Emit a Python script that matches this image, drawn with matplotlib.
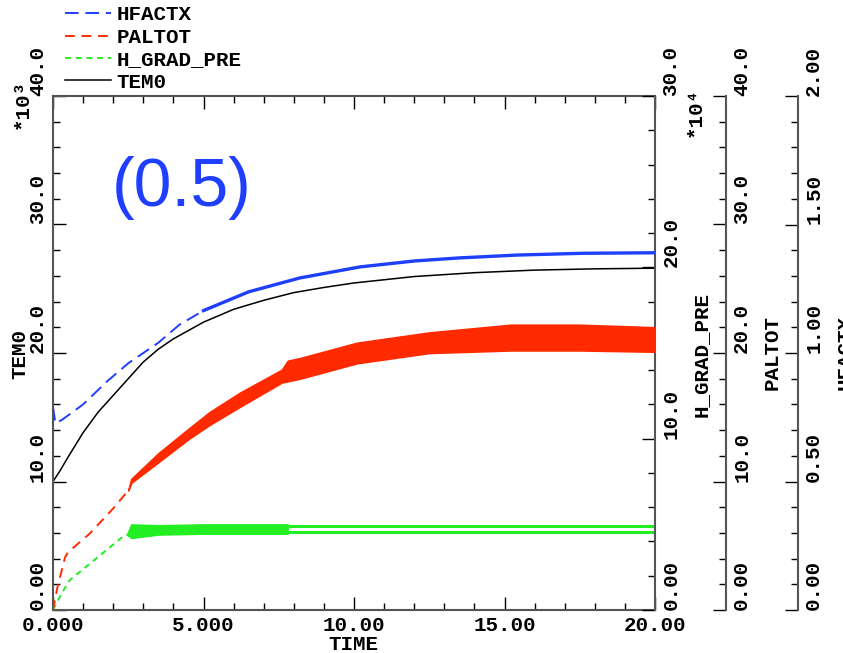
import numpy as np
import matplotlib.pyplot as plt
from matplotlib.lines import Line2D
from matplotlib.ticker import MultipleLocator

# TIME axis
time_ticks = [0, 5, 10, 15, 20]
time_labels = ["0.000", "5.000", "10.00", "15.00", "20.00"]

# TEM0 (*10^3), left axis
tem0_t = [0, 0.25, 0.5, 1.0, 1.5, 2.0, 2.5, 3.0, 3.5, 4.0, 5.0, 6.0, 7.0, 8.0, 9.0,
          10.0, 12.0, 14.0, 16.0, 18.0, 20.0]
tem0_v = [10.0, 10.9, 11.9, 13.8, 15.4, 16.7, 18.0, 19.3, 20.3, 21.1, 22.4, 23.4, 24.1,
          24.7, 25.1, 25.45, 25.95, 26.25, 26.45, 26.55, 26.6]
tem0_ticks = [0, 10, 20, 30, 40]
tem0_labels = ["0.00", "10.0", "20.0", "30.0", "40.0"]

# HFACTX, third right axis
hf_t = [0, 0.08, 0.3, 1.0, 1.8, 2.5, 3.0, 3.5, 4.2, 5.0, 6.5, 8.2, 10.2, 12.0, 13.5, 15.4,
        17.6, 20]
hf_v = [0.79, 0.727, 0.74, 0.80, 0.89, 0.96, 1.0, 1.04, 1.11, 1.165, 1.238, 1.292, 1.335,
        1.358, 1.37, 1.381, 1.388, 1.39]
hf_ticks = [0, 0.5, 1.0, 1.5, 2.0]
hf_labels = ["0.00", "0.50", "1.00", "1.50", "2.00"]

# PALTOT, second right axis (oscillating: lower / upper envelope)
pal_t = [0, 0.15, 0.4, 0.5, 1.2, 2.0, 2.5, 2.6, 3.5, 4.5, 5.2, 6.2, 7.6, 7.8, 8.2, 10.1,
         12.5, 15.2, 17.5, 20]
pal_lo = [0, 1.8, 4.1, 4.5, 5.9, 7.9, 9.3, 9.9, 11.5, 13.3, 14.4, 15.8, 17.7, 17.8, 18.0,
          19.2, 20.0, 20.2, 20.2, 20.1]
pal_hi = [0, 1.8, 4.1, 4.5, 5.9, 7.9, 9.3, 10.2, 12.2, 14.1, 15.4, 16.9, 18.7, 19.4, 19.6,
          20.8, 21.6, 22.2, 22.2, 22.0]
pal_ticks = [0, 10, 20, 30, 40]
pal_labels = ["0.00", "10.0", "20.0", "30.0", "40.0"]

# H_GRAD_PRE (*10^4), first right axis (lower / upper envelope)
grad_t = [0, 0.29, 0.56, 1.5, 2.39, 2.45, 2.6, 3.5, 5.0, 6.5, 7.8, 10, 12.5, 15, 17.5, 20]
grad_lo = [0, 0.99, 1.75, 3.1, 4.38, 4.4, 4.2, 4.4, 4.45, 4.45, 4.45, 4.45, 4.45, 4.45,
           4.45, 4.45]
grad_hi = [0, 0.99, 1.75, 3.1, 4.38, 4.4, 5.0, 4.95, 5.0, 5.0, 5.0, 5.0, 5.0, 5.0, 5.0, 5.0]
grad_ticks = [0, 10, 20, 30]
grad_labels = ["0.00", "10.0", "20.0", "30.0"]

blue = "#1f3fff"
red = "#ff2a00"
green = "#22ee22"
spine_c = "#555555"
blue_ls = (0, (7, 3.5))
red_ls = (0, (5, 3.5))
green_ls = (0, (3, 2.5))

plt.rcParams['font.family'] = ['Liberation Mono', 'DejaVu Sans Mono']
plt.rcParams['font.weight'] = 'bold'
plt.rcParams['font.size'] = 15

W, H = 843, 653
fig = plt.figure(figsize=(W / 100, H / 100), dpi=100)
ax = fig.add_axes([53 / W, 43 / H, 602 / W, 514 / H])
ax_grad = ax.twinx()
ax_pal = ax.twinx()
ax_hf = ax.twinx()
ax_pal.spines['right'].set_position(('axes', (726 - 53) / 602))
ax_hf.spines['right'].set_position(('axes', (798 - 53) / 602))

# TEM0
ax.plot(tem0_t, tem0_v, color="black", lw=1.1)

# HFACTX
hf_t_a = np.array(hf_t)
hf_v_a = np.array(hf_v)
ax_hf.plot(hf_t_a, hf_v_a, color=blue, lw=1.4, ls=blue_ls)
late = hf_t_a >= 5.0
ax_hf.plot(hf_t_a[late], hf_v_a[late], color=blue, lw=2.4)

# PALTOT
pt = np.array(pal_t)
plo = np.array(pal_lo)
phi = np.array(pal_hi)
early = pt <= 2.5
ax_pal.plot(pt[early], (plo[early] + phi[early]) / 2, color=red, lw=1.4, ls=red_ls)
band = pt >= 2.5
ax_pal.fill_between(pt[band], plo[band], phi[band], color=red, lw=1.2, edgecolor=red)

# H_GRAD_PRE
gt = np.array(grad_t)
glo = np.array(grad_lo)
ghi = np.array(grad_hi)
early = gt <= 2.45
ax_grad.plot(gt[early], (glo[early] + ghi[early]) / 2, color=green, lw=1.4, ls=green_ls)
mid = (gt >= 2.45) & (gt <= 7.8)
ax_grad.fill_between(gt[mid], glo[mid], ghi[mid], color=green, lw=1.0, edgecolor=green)
late = gt >= 7.8
ax_grad.plot(gt[late], glo[late] + 0.12, color=green, lw=2.2)
ax_grad.plot(gt[late], ghi[late] - 0.12, color=green, lw=2.2)

# limits and ticks
ax.set_xlim(0, 20)
ax.set_ylim(0, 40)
ax_grad.set_ylim(0, 30)
ax_pal.set_ylim(0, 40)
ax_hf.set_ylim(0, 2.0)

ax.set_xticks(time_ticks)
ax.set_xticklabels(time_labels)
ax.xaxis.set_minor_locator(MultipleLocator(1))
ax.tick_params(axis='x', which='both', top=True, direction='in', width=1, colors='black')
ax.tick_params(axis='x', which='major', length=9.5, pad=4.5)
ax.tick_params(axis='x', which='minor', length=5)

for a, ticks, labels, minor, side in [
    (ax, tem0_ticks, tem0_labels, 2, 'left'),
    (ax_grad, grad_ticks, grad_labels, 2, 'right'),
    (ax_pal, pal_ticks, pal_labels, 2, 'right'),
    (ax_hf, hf_ticks, hf_labels, 0.1, 'right'),
]:
    a.set_yticks(ticks)
    a.set_yticklabels(labels)
    a.yaxis.set_minor_locator(MultipleLocator(minor))
    a.tick_params(axis='y', which='both', direction='in', width=1, colors='black')
    a.tick_params(axis='y', which='major', length=9.5, pad=4.5)
    a.tick_params(axis='y', which='minor', length=5)
    for lab in a.get_yticklabels():
        lab.set_rotation(90)
        lab.set_va('bottom')
    for s in a.spines.values():
        s.set_visible(False)
    a.spines[side].set_visible(True)
    a.spines[side].set_color(spine_c)
    a.spines[side].set_linewidth(1.5)

for s in ['top', 'bottom']:
    ax.spines[s].set_visible(True)
    ax.spines[s].set_color(spine_c)
    ax.spines[s].set_linewidth(1.5)

# axis titles and multipliers
fig.text(20 / W, 1 - 354 / H, "TEM0", rotation=90, ha='center', va='center')
fig.text(701 / W, 1 - 354 / H, "H_GRAD_PRE", rotation=90, ha='center', va='center')
fig.text(772 / W, 1 - 352 / H, "PALTOT", rotation=90, ha='center', va='center')
fig.text(845 / W, 1 - 352 / H, "HFACTX", rotation=90, ha='center', va='center')
fig.text(353 / W, 1 - 645 / H, "TIME", ha='center', va='center')
fig.text(22 / W, 1 - 104 / H, "*10³", rotation=90, ha='center', va='center')
fig.text(695 / W, 1 - 112 / H, "*10⁴", rotation=90, ha='center', va='center')

fig.text(112 / W, 1 - 206 / H, "(0.5)", fontsize=49, color=blue,
         family='Liberation Sans', fontweight='normal', ha='left', va='baseline')

handles = [
    Line2D([], [], color=blue, lw=1.4, ls=blue_ls),
    Line2D([], [], color=red, lw=1.4, ls=red_ls),
    Line2D([], [], color=green, lw=1.4, ls=green_ls),
    Line2D([], [], color="black", lw=1.1),
]
fig.legend(handles, ["HFACTX", "PALTOT", "H_GRAD_PRE", "TEM0"],
           loc='upper left', bbox_to_anchor=(65 / W, 1 - 5.5 / H), frameon=False,
           borderpad=0, borderaxespad=0, handlelength=2.2, handletextpad=0.28,
           labelspacing=0.16, fontsize=15)

fig.savefig("out.png", dpi=100)
